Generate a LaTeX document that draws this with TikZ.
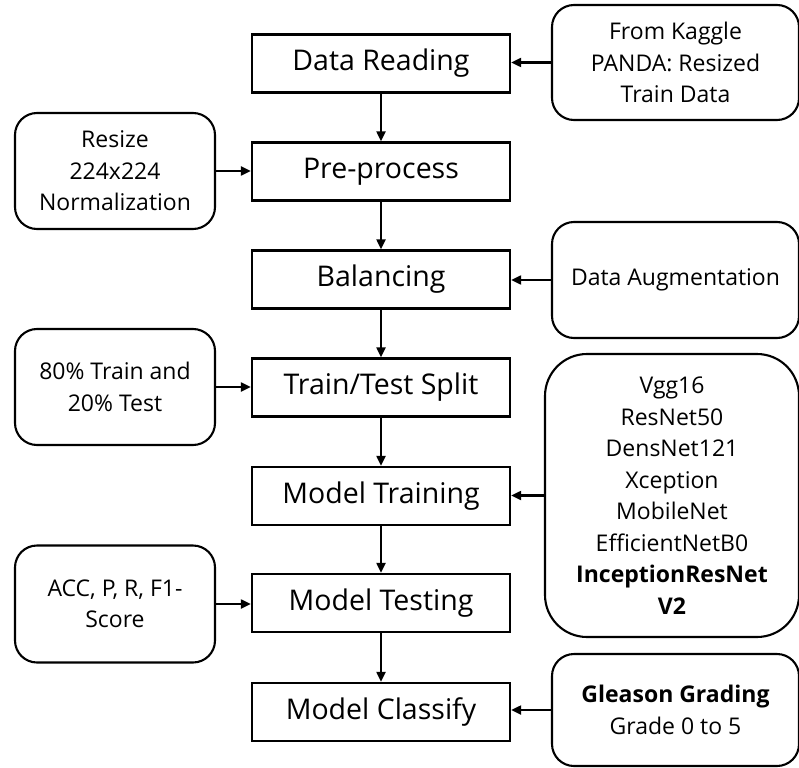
\documentclass[tikz,border=0pt]{standalone}
\usepackage{fontspec}
\setmainfont{Open Sans}
\usetikzlibrary{arrows.meta}
\begin{document}
\begin{tikzpicture}[x=1pt,y=-1pt,
  mainbox/.style={draw,line width=2.3pt,minimum width=258pt,minimum height=58pt,inner sep=0pt,
    font=\fontsize{28.5}{32}\selectfont},
  sidebox/.style={draw,line width=2.1pt,rounded corners=22pt,inner sep=0pt,align=center,
    font=\fontsize{23}{31.5}\selectfont},
  arr/.style={line width=2.1pt,-{Triangle[length=10pt,width=9pt]}}]
\useasboundingbox (0,0) rectangle (799,767);

% main pipeline
\node[mainbox] (read)  at (381,63.5)  {Data Reading};
\node[mainbox] (pre)   at (381,171.5) {Pre-process};
\node[mainbox] (bal)   at (381,279.5) {Balancing};
\node[mainbox] (split) at (381,387.5) {Train/Test Split};
\node[mainbox] (train) at (381,496)   {Model Training};
\node[mainbox] (test)  at (381,603)   {Model Testing};
\node[mainbox] (cls)   at (381,712)   {Model Classify};

% inputs on the left
\node[sidebox,minimum width=200pt,minimum height=116pt] (resize) at (115,171)
  {Resize\\224x224\\Normalization};
\node[sidebox,minimum width=200pt,minimum height=116pt] (ratio) at (115,387)
  {80\% Train and\\20\% Test};
\node[sidebox,minimum width=200pt,minimum height=117pt] (metrics) at (115,604)
  {ACC, P, R, F1-\\Score};

% inputs on the right
\node[sidebox,minimum width=247pt,minimum height=115pt] (kaggle) at (675.5,62.5)
  {From Kaggle\\PANDA: Resized\\Train Data};
\node[sidebox,minimum width=247pt,minimum height=116pt] (aug) at (675.5,280)
  {Data Augmentation};
\node[sidebox,rounded corners=42pt,minimum width=254pt,minimum height=283pt] (models) at (672,495.5)
  {Vgg16\\ResNet50\\DensNet121\\Xception\\MobileNet\\EfficientNetB0\\\textbf{InceptionResNet}\\\textbf{V2}};
\node[sidebox,minimum width=247pt,minimum height=112pt] (grade) at (675.5,710)
  {\textbf{Gleason Grading}\\Grade 0 to 5};

% pipeline flow
\draw[arr] (read) -- (pre);
\draw[arr] (pre) -- (bal);
\draw[arr] (bal) -- (split);
\draw[arr] (split) -- (train);
\draw[arr] (train) -- (test);
\draw[arr] (test) -- (cls);

% side inputs
\draw[arr] (resize.east) -- (resize.east -| pre.west);
\draw[arr] (ratio.east) -- (ratio.east -| split.west);
\draw[arr] (metrics.east) -- (metrics.east -| test.west);
\draw[arr] (kaggle.west) -- (kaggle.west -| read.east);
\draw[arr] (aug.west) -- (aug.west -| bal.east);
\draw[arr] (models.west) -- (models.west -| train.east);
\draw[arr] (grade.west) -- (grade.west -| cls.east);
\end{tikzpicture}
\end{document}
